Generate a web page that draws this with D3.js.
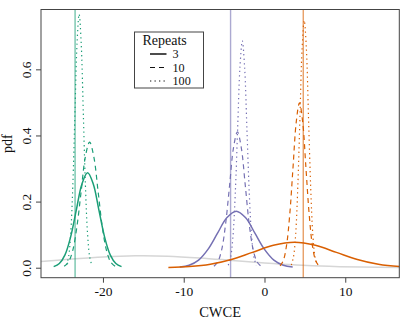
<!DOCTYPE html>
<html>
<head>
<meta charset="utf-8">
<script src="https://cdn.jsdelivr.net/npm/d3@7"></script>
<style>
    body { margin: 0; background: #fff; }
    svg { display: block; }
    svg text { font-family: "Liberation Serif", "DejaVu Serif", serif; }
</style>
</head>
<body>
<script>
const w = 412;
const h = 329;
const margin = { top: 9.5, right: 12.7, bottom: 51.3, left: 41 };

// curves: x position and pdf height, per group and repeat count
const green3x = [-26.1, -25.4, -24.7, -24.0, -23.3, -22.6, -21.9, -21.2, -20.5, -19.8, -19.1, -18.4, -17.7];
const green3y = [0.0032, 0.0126, 0.0388, 0.0932, 0.1741, 0.2533, 0.287, 0.2533, 0.1741, 0.0932, 0.0388, 0.0126, 0.0032];
const green10x = [-24.8, -24.28, -23.75, -23.23, -22.7, -22.18, -21.65, -21.13, -20.6, -20.08, -19.55, -19.03, -18.5];
const green10y = [0.0042, 0.0167, 0.0514, 0.1234, 0.2305, 0.3354, 0.38, 0.3354, 0.2305, 0.1234, 0.0514, 0.0167, 0.0042];
const green100x = [-24.51, -24.25, -23.99, -23.73, -23.47, -23.21, -22.95, -22.69, -22.43, -22.17, -21.91, -21.65, -21.39];
const green100y = [0.0085, 0.0337, 0.1038, 0.249, 0.4652, 0.6769, 0.767, 0.6769, 0.4652, 0.249, 0.1038, 0.0337, 0.0085];

const purple3x = [-10.49, -9.33, -8.16, -7.0, -5.83, -4.67, -3.5, -2.33, -1.17, 0.0, 1.16, 2.33, 3.49];
const purple3y = [0.0019, 0.0075, 0.0231, 0.0555, 0.1037, 0.1509, 0.171, 0.1509, 0.1037, 0.0555, 0.0231, 0.0075, 0.0019];
const purple10x = [-6.26, -5.78, -5.29, -4.81, -4.32, -3.84, -3.35, -2.87, -2.38, -1.9, -1.41, -0.93, -0.44];
const purple10y = [0.0046, 0.018, 0.0556, 0.1335, 0.2493, 0.3627, 0.411, 0.3627, 0.2493, 0.1335, 0.0556, 0.018, 0.0046];
const purple100x = [-4.49, -4.2, -3.91, -3.62, -3.33, -3.04, -2.75, -2.46, -2.17, -1.88, -1.59, -1.3, -1.01];
const purple100y = [0.0076, 0.0301, 0.0928, 0.2227, 0.4161, 0.6054, 0.686, 0.6054, 0.4161, 0.2227, 0.0928, 0.0301, 0.0076];

const orange3x = [-11.9, -9.3, -6.7, -4.1, -1.5, 1.1, 3.7, 6.3, 8.9, 11.5, 14.1, 16.7, 19.3];
const orange3y = [0.0009, 0.0034, 0.0104, 0.0249, 0.0465, 0.0677, 0.0767, 0.0677, 0.0465, 0.0249, 0.0104, 0.0034, 0.0009];
const orange10x = [1.93, 2.33, 2.73, 3.13, 3.53, 3.93, 4.33, 4.73, 5.13, 5.53, 5.93, 6.33, 6.73];
const orange10y = [0.0055, 0.0219, 0.0675, 0.162, 0.3026, 0.4404, 0.499, 0.4404, 0.3026, 0.162, 0.0675, 0.0219, 0.0055];
const orange100x = [3.32, 3.59, 3.86, 4.12, 4.39, 4.65, 4.92, 5.19, 5.45, 5.72, 5.98, 6.25, 6.52];
const orange100y = [0.0083, 0.0328, 0.1012, 0.2429, 0.4537, 0.6601, 0.748, 0.6601, 0.4537, 0.2429, 0.1012, 0.0328, 0.0083];

// wide grey background curve
const greyX = [-28, -24, -20, -16, -12, -8, -4, 0, 4, 8, 12, 17];
const greyY = [0.0181, 0.026, 0.0327, 0.0361, 0.035, 0.0296, 0.022, 0.0143, 0.0082, 0.0041, 0.0018, 0.0005];

// vertical reference lines (green, purple, orange)
const refLines = [-23.45, -4.2, 4.8];

const repeats = ["3", "10", "100"];
const xTicks = [-20, -10, 0, 10];
const yTicks = [0, 0.2, 0.4, 0.6];

const colors = ["#1b9e77", "#7570b3", "#d95f02"];
const dashes = [null, "5,4", "1.3,3.2"];

const curves = [
    [green3x, green3y, 0, 0], [green10x, green10y, 0, 1], [green100x, green100y, 0, 2],
    [purple3x, purple3y, 1, 0], [purple10x, purple10y, 1, 1], [purple100x, purple100y, 1, 2],
    [orange3x, orange3y, 2, 0], [orange10x, orange10y, 2, 1], [orange100x, orange100y, 2, 2],
];

const x = d3.scaleLinear().domain([-27.67, 16.69]).range([margin.left, w - margin.right]);
const y = d3.scaleLinear().domain([-0.0302, 0.781]).range([h - margin.bottom, margin.top]);

const svg = d3
    .select("body")
    .append("svg")
    .attr("width", w)
    .attr("height", h);

svg
    .append("defs")
    .append("clipPath")
    .attr("id", "plot")
    .append("rect")
    .attr("x", margin.left)
    .attr("y", margin.top)
    .attr("width", w - margin.left - margin.right)
    .attr("height", h - margin.top - margin.bottom);

const chart = svg.append("g").attr("clip-path", "url(#plot)");

const line = d3
    .line()
    .x(d => x(d[0]))
    .y(d => y(d[1]))
    .curve(d3.curveCatmullRom);

chart
    .append("path")
    .attr("d", line(d3.zip(greyX, greyY)))
    .attr("fill", "none")
    .attr("stroke", "#d6d6d6")
    .attr("stroke-width", 1.5);

chart
    .selectAll("line.ref")
    .data(refLines)
    .enter()
    .append("line")
    .attr("class", "ref")
    .attr("x1", d => x(d))
    .attr("x2", d => x(d))
    .attr("y1", margin.top)
    .attr("y2", h - margin.bottom)
    .attr("stroke", (d, i) => colors[i])
    .attr("stroke-opacity", 0.6)
    .attr("stroke-width", 1.4);

chart
    .selectAll("path.curve")
    .data(curves)
    .enter()
    .append("path")
    .attr("class", "curve")
    .attr("d", d => line(d3.zip(d[0], d[1])))
    .attr("fill", "none")
    .attr("stroke", d => colors[d[2]])
    .attr("stroke-width", d => (d[3] === 0 ? 1.5 : 1.2))
    .attr("stroke-dasharray", d => dashes[d[3]]);

// axes
const xAxis = svg
    .append("g")
    .attr("transform", `translate(0,${h - margin.bottom})`)
    .call(d3.axisBottom(x).tickValues(xTicks).tickSize(5).tickFormat(d => String(d)));

xAxis
    .selectAll("text")
    .attr("y", 18.8)
    .attr("dy", null)
    .attr("font-size", 13.5)
    .attr("fill", "#111");

const yAxis = svg
    .append("g")
    .attr("transform", `translate(${margin.left},0)`)
    .call(d3.axisLeft(y).tickValues(yTicks).tickSize(5).tickFormat(d3.format(".1f")));

yAxis
    .selectAll("text")
    .attr("transform", "rotate(-90)")
    .attr("x", 0)
    .attr("y", -10.5)
    .attr("dy", null)
    .attr("text-anchor", "middle")
    .attr("font-size", 13.5)
    .attr("fill", "#111");

svg.selectAll(".domain").remove();
svg.selectAll(".tick line").attr("stroke", "#444");

svg
    .append("rect")
    .attr("x", margin.left)
    .attr("y", margin.top)
    .attr("width", w - margin.left - margin.right)
    .attr("height", h - margin.top - margin.bottom)
    .attr("fill", "none")
    .attr("stroke", "#444");

svg
    .append("text")
    .attr("x", (margin.left + w - margin.right) / 2)
    .attr("y", 316.5)
    .attr("text-anchor", "middle")
    .attr("font-size", 14.5)
    .attr("fill", "#111")
    .text("CWCE");

svg
    .append("text")
    .attr("transform", `translate(12,${(margin.top + h - margin.bottom) / 2}) rotate(-90)`)
    .attr("text-anchor", "middle")
    .attr("font-size", 14)
    .attr("fill", "#111")
    .text("pdf");

// legend
const legend = svg.append("g").attr("transform", "translate(134.5,32)");

legend
    .append("rect")
    .attr("width", 69)
    .attr("height", 56)
    .attr("fill", "#fff")
    .attr("stroke", "#444");

legend
    .append("text")
    .attr("x", 8)
    .attr("y", 12.5)
    .attr("font-size", 14)
    .attr("fill", "#111")
    .text("Repeats");

legend
    .selectAll("line.key")
    .data(repeats)
    .enter()
    .append("line")
    .attr("class", "key")
    .attr("x1", 15.5)
    .attr("x2", 32)
    .attr("y1", (d, i) => 22 + i * 13.5)
    .attr("y2", (d, i) => 22 + i * 13.5)
    .attr("stroke", "#111")
    .attr("stroke-width", (d, i) => (i === 0 ? 1.5 : 1.2))
    .attr("stroke-dasharray", (d, i) => dashes[i]);

legend
    .selectAll("text.key")
    .data(repeats)
    .enter()
    .append("text")
    .attr("class", "key")
    .attr("x", 38)
    .attr("y", (d, i) => 26.2 + i * 13.5)
    .attr("font-size", 12.2)
    .attr("fill", "#111")
    .text(d => d);
</script>
</body>
</html>
